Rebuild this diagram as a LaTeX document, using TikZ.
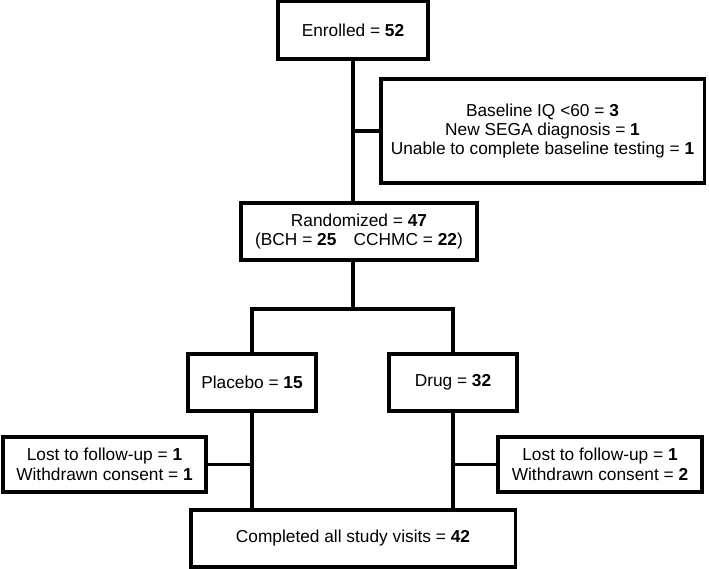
\documentclass[tikz,border=0pt]{standalone}
\usepackage{fontspec}
\setmainfont{Liberation Sans}
\usetikzlibrary{positioning}

\tikzset{
  flowbox/.style={draw,line width=2.2pt,align=center,inner sep=2pt,font=\fontsize{12.3}{13.8}\selectfont},
  link/.style={line width=2.2pt,line cap=rect}
}

\begin{document}
\begin{tikzpicture}[x=0.025cm,y=-0.025cm]
\useasboundingbox (0,0) rectangle (709,568);
\node[flowbox,minimum width=3.75cm,minimum height=1.45cm] (enrolled) at (353,30) {Enrolled = \textbf{52}};
\node[flowbox,minimum width=8.075cm,minimum height=2.6cm] (excluded) at (542.5,131) {Baseline IQ {<}60 = \textbf{3}\\New SEGA diagnosis = \textbf{1}\\Unable to complete baseline testing = \textbf{1}};
\node[flowbox,minimum width=5.9cm,minimum height=1.425cm] (random) at (359,231.5) {Randomized = \textbf{47}\\(BCH = \textbf{25}\quad CCHMC = \textbf{22})};
\node[flowbox,minimum width=3.2cm,minimum height=1.425cm] (placebo) at (252,382.5) {Placebo = \textbf{15}};
\node[flowbox,minimum width=3.2cm,minimum height=1.425cm] (drug) at (453,382.5) {Drug = \textbf{32}};
\node[flowbox,minimum width=5.075cm,minimum height=1.375cm] (lostplacebo) at (104.5,464.5) {Lost to follow-up = \textbf{1}\\Withdrawn consent = \textbf{1}};
\node[flowbox,minimum width=5.1cm,minimum height=1.375cm] (lostdrug) at (600,464.5) {Lost to follow-up = \textbf{1}\\Withdrawn consent = \textbf{2}};
\node[flowbox,minimum width=8.1cm,minimum height=1.425cm] (completed) at (353,538.5) {Completed all study visits = \textbf{42}};

% connectors
\coordinate (split) at (353,309);
\draw[link] (enrolled.south) -- (enrolled.south |- random.north);
\draw[link] (enrolled.south |- excluded.west) -- (excluded.west);
\draw[link] (enrolled.south |- random.south) -- (split);
\draw[link] (placebo.north) |- (split) -| (drug.north);
\draw[link] (placebo.south) -- (placebo.south |- completed.north);
\draw[link] (drug.south) -- (drug.south |- completed.north);
\draw[link] (lostplacebo.east) -- (lostplacebo.east -| placebo.south);
\draw[link] (lostdrug.west) -- (lostdrug.west -| drug.south);
\end{tikzpicture}
\end{document}
